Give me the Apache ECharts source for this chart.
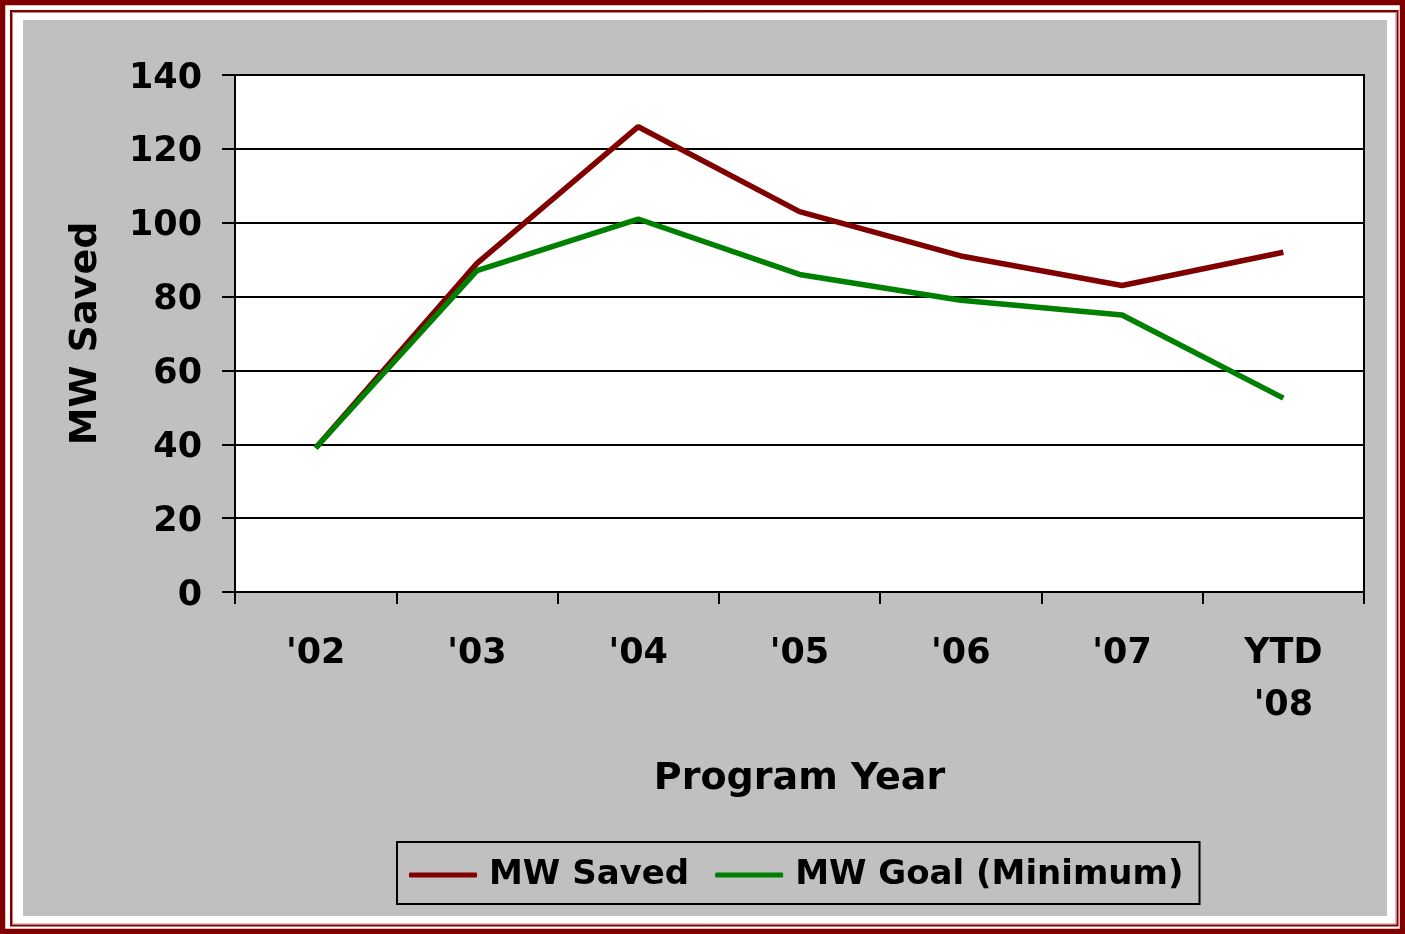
<!DOCTYPE html>
<html>
<head>
<meta charset="utf-8">
<script src="https://cdn.jsdelivr.net/npm/echarts@6/dist/echarts.min.js"></script>
<style>
html,body{margin:0;padding:0;background:#fff;}
#chart{width:1405px;height:934px;}
</style>
</head>
<body>
<div id="chart"></div>
<script>
const categories = ["'02", "'03", "'04", "'05", "'06", "'07", "YTD\n'08"];
const mwSaved = [39, 89, 126, 103, 91, 83, 92];
const mwGoal = [39, 87, 101, 86, 79, 75, 52.5];
const seriesNames = ["MW Saved", "MW Goal (Minimum)"];
const yTicks = { min: 0, max: 140, interval: 20 };

const FONT = "DejaVu Sans";
const chart = echarts.init(document.getElementById('chart'));
chart.setOption({
  backgroundColor: '#ffffff',
  animation: false,
  graphic: [
    { type: 'rect', z: -100, silent: true, shape: { x: 23, y: 20, width: 1364, height: 896 }, style: { fill: '#c0c0c0' } },
    { type: 'rect', z: -100, silent: true, shape: { x: 2.5, y: 2.5, width: 1400, height: 929 }, style: { fill: 'none', stroke: '#800000', lineWidth: 5.5 } },
    { type: 'rect', z: -100, silent: true, shape: { x: 11, y: 11, width: 1386.5, height: 914.5 }, style: { fill: 'none', stroke: '#800000', lineWidth: 2 } },
    { type: 'rect', z: -100, silent: true, shape: { x: 12.5, y: 12.5, width: 1383.5, height: 911.5 }, style: { fill: 'none', stroke: '#c08080', lineWidth: 1 } }
  ],
  grid: {
    left: 235, right: 41, top: 75, bottom: 342,
    show: true, backgroundColor: '#ffffff', borderColor: '#000000', borderWidth: 2
  },
  legend: {
    left: 397, top: 842,
    padding: [16, 16, 12, 12],
    icon: 'roundRect',
    itemWidth: 68, itemHeight: 5, itemGap: 26,
    backgroundColor: '#c0c0c0', borderColor: '#000000', borderWidth: 2,
    textStyle: { fontFamily: FONT, fontWeight: 'bold', fontSize: 34, color: '#000', padding: [0, 0, 0, 7] },
    data: seriesNames
  },
  xAxis: {
    type: 'category',
    data: categories,
    boundaryGap: true,
    name: 'Program Year',
    nameLocation: 'middle',
    nameGap: 168,
    nameTextStyle: { fontFamily: FONT, fontWeight: 'bold', fontSize: 38, color: '#000' },
    axisLine: { show: true, lineStyle: { color: '#000', width: 2 } },
    axisTick: { show: true, length: 12, alignWithLabel: false, lineStyle: { color: '#000', width: 2 } },
    axisLabel: { fontFamily: FONT, fontWeight: 'bold', fontSize: 35, color: '#000', margin: 36, lineHeight: 52, interval: 0 },
    splitLine: { show: false }
  },
  yAxis: {
    type: 'value',
    min: yTicks.min, max: yTicks.max, interval: yTicks.interval,
    name: 'MW Saved',
    nameLocation: 'middle',
    nameGap: 130,
    nameRotate: 90,
    nameTextStyle: { fontFamily: FONT, fontWeight: 'bold', fontSize: 38, color: '#000' },
    axisLine: { show: true, lineStyle: { color: '#000', width: 2 } },
    axisTick: { show: true, length: 13, lineStyle: { color: '#000', width: 2 } },
    axisLabel: {
      margin: 33,
      formatter: '{v|{value}}',
      rich: { v: { fontFamily: FONT, fontWeight: 'bold', fontSize: 35, color: '#000', padding: [7, 0, 0, 0] } }
    },
    splitLine: { show: true, lineStyle: { color: '#000', width: 2 } }
  },
  series: [
    { name: seriesNames[0], type: 'line', data: mwSaved, symbol: 'none', lineStyle: { color: '#800000', width: 5.5 }, itemStyle: { color: '#800000' } },
    { name: seriesNames[1], type: 'line', data: mwGoal, symbol: 'none', lineStyle: { color: '#008000', width: 5.5 }, itemStyle: { color: '#008000' } }
  ]
});
</script>
</body>
</html>
